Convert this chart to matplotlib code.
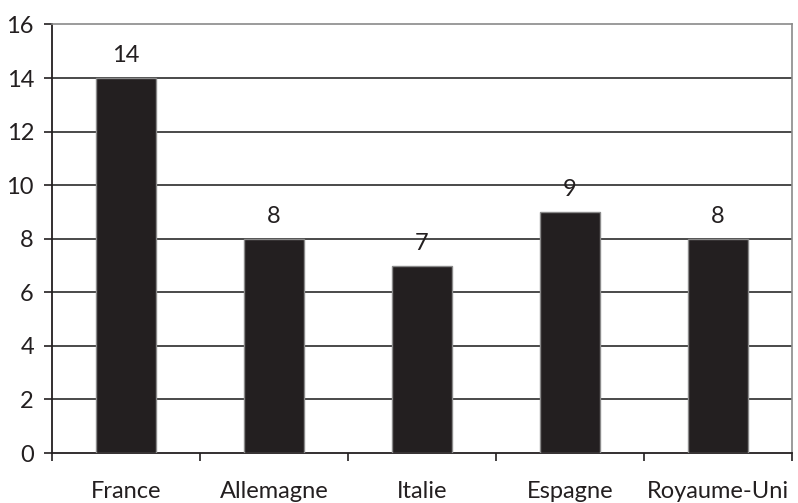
import matplotlib
matplotlib.use("Agg")
import matplotlib.pyplot as plt
import numpy as np

countries = ["France", "Allemagne", "Italie", "Espagne", "Royaume-Uni"]
values = [14, 8, 7, 9, 8]
y_ticks = [0, 2, 4, 6, 8, 10, 12, 14, 16]

plt.rcParams["font.family"] = ["Lato", "DejaVu Sans"]
FS = 17

fig = plt.figure(figsize=(7.98, 5.03), dpi=100)
ax = fig.add_axes([52 / 798, 50 / 503, 740 / 798, 428.5 / 503])

x = np.arange(len(countries))
bars = ax.bar(x, values, width=0.4, color="#231F20", edgecolor="#8a8a8a",
              linewidth=1.0, zorder=3)

for xi, v in zip(x, values):
    ax.annotate(f"{v}", (xi, v), xytext=(0, 11.5), textcoords="offset points",
                ha="center", va="baseline", fontsize=FS, color="#231F20")

ax.set_xlim(-0.5, len(countries) - 0.5)
ax.set_ylim(0, 16)
ax.set_yticks(y_ticks)
ax.set_yticklabels([str(t) for t in y_ticks], fontsize=FS, color="#231F20")

# category labels centred, ticks on category boundaries
ax.set_xticks(x)
ax.set_xticklabels(countries, fontsize=FS, color="#231F20")
ax.tick_params(axis="x", which="major", length=0, pad=20)
ax.set_xticks(np.arange(len(countries) + 1) - 0.5, minor=True)
ax.tick_params(axis="x", which="minor", length=5.5, width=1.2, color="#231F20",
               direction="out")
ax.tick_params(axis="y", length=6, width=1.2, color="#231F20", pad=7)

# horizontal gridlines
for t in y_ticks[1:-1]:
    ax.axhline(t, color="#2b2b2b", linewidth=1.2, zorder=1)

for s in ["left", "bottom"]:
    ax.spines[s].set_color("#231F20")
    ax.spines[s].set_linewidth(1.3)
for s in ["top", "right"]:
    ax.spines[s].set_color("#8a8a8a")
    ax.spines[s].set_linewidth(1.2)

fig.savefig("out.png", dpi=100)
